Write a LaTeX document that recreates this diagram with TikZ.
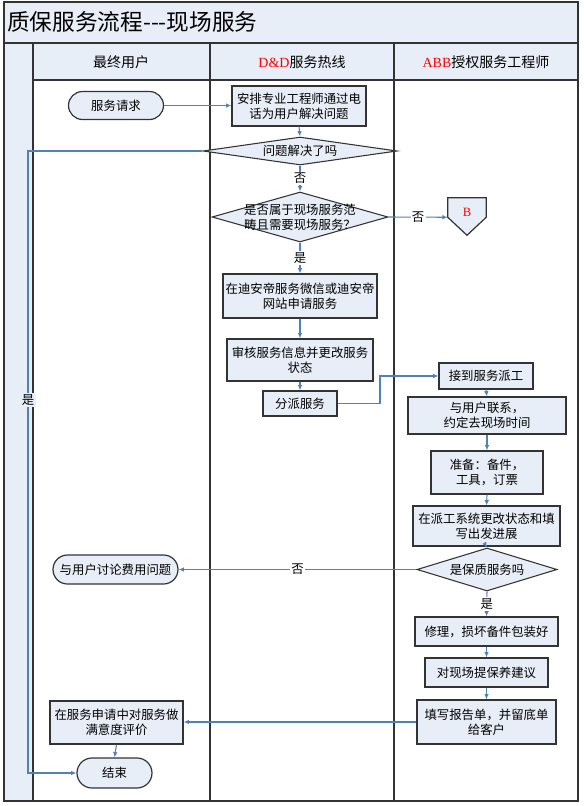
\documentclass[tikz,border=0pt]{standalone}
\usepackage{fontspec}
\setmainfont{Noto Sans CJK SC}
\newfontfamily\latinfont{Liberation Serif}
\usepackage{xcolor}
\usepackage{tikz}
\usetikzlibrary{shapes, arrows.meta, calc}
\definecolor{lanefill}{HTML}{E8EEF8}
\definecolor{flowblue}{HTML}{4F81BD}
\definecolor{edgegray}{HTML}{333333}
\tikzstyle{boxtext}=[align=center, font=\fontsize{9.3}{11.5}\selectfont]
\tikzstyle{procbox}=[boxtext, draw=edgegray, line width=0.9pt, fill=lanefill, inner sep=0]
\tikzstyle{termbox}=[procbox, rounded rectangle]
\tikzstyle{decbox}=[procbox, diamond, line width=0.8pt]
\tikzstyle{laneline}=[draw=edgegray, line width=1.1pt]
\tikzstyle{lanehead}=[font=\fontsize{10.5}{12}\selectfont]
\tikzstyle{flowline}=[draw=flowblue, line width=0.8pt, -{Latex[length=4pt, width=3.5pt]}]
\tikzstyle{answer}=[fill=white, inner sep=1pt, font=\fontsize{9.3}{11}\selectfont]
\newcommand{\YPbox}[6]{\node[#1, minimum width=#4*0.75pt, minimum height=#5*0.75pt] (#2) at #3 {#6};}
\newcommand{\YPdec}[5]{\node[decbox, minimum width=#3*0.75pt, minimum height=#4*0.75pt, label={[boxtext]center:{#5}}] (#1) at #2 {};}
\newcommand{\redtext}[1]{{\color{red}\latinfont #1}}

\begin{document}
\begin{tikzpicture}[x=0.75pt, y=-0.75pt]
\useasboundingbox (0,0) rectangle (583,806);
\fill[lanefill] (4,2) rectangle (578,43);
\fill[lanefill] (4,43) rectangle (33,801);
\fill[lanefill] (33,43) rectangle (578,80);
\draw[laneline] (4,2) rectangle (578,801);
\draw[laneline] (4,43)--(578,43) (33,80)--(578,80) (33,43)--(33,801) (210,43)--(210,801) (394,43)--(394,801);
\node[anchor=west, inner sep=0, font=\fontsize{17}{20}\selectfont] (title) at (7,22) {质保服务流程{-}{-}{-}现场服务};
\node[lanehead] (hdUser) at (121,62) {最终用户};
\node[lanehead] (hdLine) at (302,62) {\redtext{D\&D}服务热线};
\node[lanehead] (hdEng) at (486,62) {\redtext{ABB}授权服务工程师};

\YPbox{termbox}{req}{(116,105.5)}{95}{28}{服务请求}
\YPbox{procbox}{arrange}{(299,106)}{134}{40}{安排专业工程师通过电\\话为用户解决问题}
\YPdec{solved}{(300,151)}{194}{28}{问题解决了吗}
\YPdec{onsite}{(300,217)}{176}{50}{是否属于现场服务范\\畴且需要现场服务？}
\node[minimum width=38*0.75pt, minimum height=19*0.75pt, inner sep=0] (B) at (467,207.5) {};
\filldraw[fill=lanefill, draw=edgegray, line width=0.9pt] (B.north west)--(B.north east)--(B.south east)--($(B.south)+(0,18)$)--(B.south west)--cycle;
\node[text=red, font=\latinfont\fontsize{9.5}{11}\selectfont] (Btext) at ($(B)+(0,5)$) {B};
\YPbox{procbox}{apply}{(300,296)}{154}{44}{在迪安帝服务微信或迪安帝\\网站申请服务}
\YPbox{procbox}{audit}{(300,360)}{146}{42}{审核服务信息并更改服务\\状态}
\YPbox{procbox}{assign}{(300,403.5)}{74}{25}{分派服务}
\YPbox{procbox}{receive}{(486,376)}{94}{26}{接到服务派工}
\YPbox{procbox}{contact}{(487,415.5)}{158}{37}{与用户联系，\\约定去现场时间}
\YPbox{procbox}{prepare}{(487,472.5)}{112}{43}{准备：备件，\\工具，订票}
\YPbox{procbox}{update}{(486.5,526)}{147}{40}{在派工系统更改状态和填\\写出发进展}
\YPdec{warranty}{(487,569.5)}{140}{43}{是保质服务吗}
\YPbox{procbox}{repair}{(486.5,631.5)}{143}{29}{修理，损坏备件包装好}
\YPbox{procbox}{advise}{(486.5,672.5)}{123}{29}{对现场提保养建议}
\YPbox{procbox}{report}{(486.5,722)}{139}{44}{填写报告单，并留底单\\给客户}
\YPbox{termbox}{fee}{(115.5,569.5)}{125}{29}{与用户讨论费用问题}
\YPbox{procbox}{rate}{(116.5,722.5)}{133}{43}{在服务申请中对服务做\\满意度评价}
\YPbox{termbox}{finish}{(114.5,773)}{75}{30}{结束}

\coordinate (yesTurn) at (28,151);
\coordinate (dispatchBend) at (380,403.5);
\draw[flowline] (req.east) -- (req.east -| arrange.west);
\draw[flowline] (arrange.south) -- (solved.north);
\draw[flowline] (solved.south) -- (onsite.north) node[midway, answer]{否};
\draw[flowline] (onsite.east) -- (B.south west) node[midway, answer]{否};
\draw[flowline] (onsite.south) -- (apply.north) node[midway, answer]{是};
\draw[flowline] (apply.south) -- (audit.north);
\draw[flowline] (audit.south) -- (assign.north);
\draw[flowline] (assign.east) -- (dispatchBend) |- (receive.west);
\draw[flowline] (receive.south) -- (contact.north);
\draw[flowline] (contact.south) -- (prepare.north);
\draw[flowline] (prepare.south) -- (update.north);
\draw[flowline] (update.south) -- (warranty.north);
\draw[flowline] (warranty.south) -- (repair.north) node[midway, answer]{是};
\draw[flowline] (warranty.west) -- (fee.east) node[midway, answer]{否};
\draw[flowline] (repair.south) -- (advise.north);
\draw[flowline] (advise.south) -- (report.north);
\draw[flowline] (report.west) -- (report.west -| rate.east);
\draw[flowline] (rate.south) -- (finish.north);
\draw[flowline] (solved.west) -- (yesTurn) |- (finish.west) node[pos=0.2, answer, fill=lanefill]{是};
\end{tikzpicture}
\end{document}
